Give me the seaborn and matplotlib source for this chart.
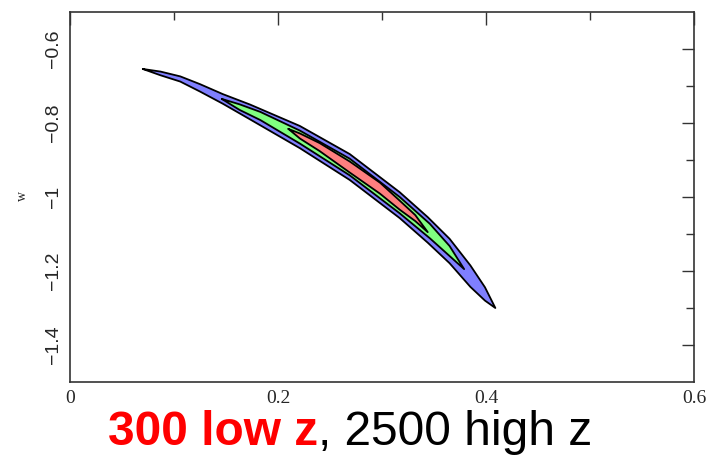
import numpy as np
import pandas as pd
import matplotlib
matplotlib.use("Agg")
import matplotlib.pyplot as plt
import seaborn as sns

# ---- data (Omega_m on x, w on y) ----
blue_x = [0.070, 0.087, 0.106, 0.125, 0.147, 0.173, 0.221, 0.269, 0.317, 0.344, 0.365, 0.385, 0.399, 0.409]
blue_c = [-0.654, -0.666, -0.681, -0.705, -0.735, -0.770, -0.838, -0.919, -1.022, -1.089, -1.146, -1.214, -1.262, -1.300]
blue_h = [0.0, 0.0050, 0.0070, 0.0100, 0.0130, 0.0200, 0.0300, 0.0350, 0.0350, 0.0345, 0.0330, 0.0290, 0.0180, 0.0]

green_x = [0.146, 0.163, 0.183, 0.221, 0.269, 0.317, 0.346, 0.365, 0.379]
green_c = [-0.735, -0.757, -0.781, -0.838, -0.919, -1.022, -1.092, -1.146, -1.195]
green_h = [0.0, 0.0075, 0.0110, 0.0175, 0.0225, 0.0220, 0.0195, 0.0135, 0.0]

red_x = [0.210, 0.221, 0.240, 0.269, 0.298, 0.317, 0.332, 0.344]
red_c = [-0.816, -0.835, -0.865, -0.919, -0.976, -1.022, -1.057, -1.095]
red_h = [0.0, 0.0068, 0.0108, 0.0149, 0.0149, 0.0122, 0.0081, 0.0]

x_ticks = [0, 0.2, 0.4, 0.6]
x_ticklabels = ["0", "0.2", "0.4", "0.6"]
y_ticks = [-0.6, -0.8, -1.0, -1.2, -1.4]
y_ticklabels = ["\u22120.6", "\u22120.8", "\u22121", "\u22121.2", "\u22121.4"]
y_label = "w"
caption_red = "300 low z"
caption_black = ", 2500 high z"

sns.set_style("white")
plt.rcParams["font.family"] = ["Liberation Serif", "DejaVu Serif"]

fig = plt.figure(figsize=(7.1, 4.57), dpi=100)
ax = fig.add_axes([70/710, 1-382/457, (694-70)/710, (382-12)/457])

levels = [
    (blue_x, blue_c, blue_h, "#7f7fff"),
    (green_x, green_c, green_h, "#80ff80"),
    (red_x, red_c, red_h, "#ff7f7f"),
]
for xs, cs, hs, col in levels:
    xs = np.asarray(xs); cs = np.asarray(cs); hs = np.asarray(hs)
    px = np.concatenate([xs, xs[::-1]])
    py = np.concatenate([cs + hs, (cs - hs)[::-1]])
    df = pd.DataFrame({"om": np.append(px, px[0]), "w": np.append(py, py[0])})
    ax.fill(df["om"], df["w"], color=col, lw=0, zorder=2)
    sns.lineplot(data=df, x="om", y="w", sort=False, estimator=None,
                 color="black", lw=1.3, ax=ax, zorder=3)

ax.set_xlim(0, 0.6)
ax.set_ylim(-1.5, -0.5)
ax.set_xticks(x_ticks)
ax.set_xticklabels(x_ticklabels)
ax.set_yticks(y_ticks)
ax.set_yticklabels(y_ticklabels, rotation=90, va="center",
                   family=["Liberation Sans", "DejaVu Sans"])
ax.set_xticks([0.1, 0.3, 0.5], minor=True)
ax.set_yticks([-0.7, -0.9, -1.1, -1.3], minor=True)
ax.tick_params(which="both", direction="in", top=True, right=True, color="#333333", width=1)
ax.tick_params(which="major", length=9)
ax.tick_params(which="minor", length=6)
ax.tick_params(axis="x", which="major", labelsize=14, pad=6)
ax.tick_params(axis="y", which="major", labelsize=14, pad=6)
ax.set_xlabel("")
ax.set_ylabel("")
for s in ax.spines.values():
    s.set_color("#333333")
    s.set_linewidth(1.2)

fig.text(22/710, 1-196/457, y_label, rotation=90, ha="center", va="center", fontsize=10)

# caption
t1 = fig.text(108/710, 1-445/457, caption_red, color="#ff0000", fontweight="bold",
              fontsize=34.5, family=["Liberation Sans", "DejaVu Sans"], va="baseline", ha="left")
fig.canvas.draw()
bb = t1.get_window_extent()
fig.text(bb.x1/710, 1-445/457, caption_black, color="black",
         fontsize=34.5, family=["Liberation Sans", "DejaVu Sans"], va="baseline", ha="left")

fig.savefig("out.png", dpi=100)
